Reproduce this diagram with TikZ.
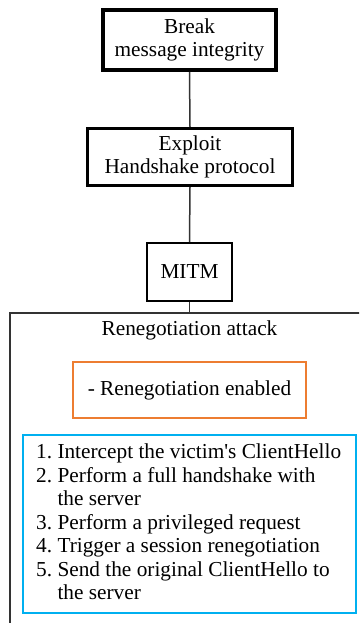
\documentclass[tikz,border=0pt]{standalone}
\usepackage{fontspec}
\setmainfont{Liberation Serif}
\definecolor{orangeline}{RGB}{237,125,49}
\definecolor{cyanline}{RGB}{0,176,240}
\begin{document}
\begin{tikzpicture}[x=1pt,y=-1pt,
  every node/.style={font=\fontsize{21.3}{23.5}\selectfont, inner sep=0pt, align=center},
  box/.style={draw=black, fill=white, rectangle},
  link/.style={draw=black!80, line width=1.5pt}]
  \useasboundingbox (0,0) rectangle (359,623);
  \begin{scope}
    \clip (0,0) rectangle (359,623);
    % outer frame of the attack, running past the page edge
    \draw[black!80, line width=2pt] (380,313) -- (10,313) -- (10,650);
    \coordinate (frametop) at (189.5,313);
  \end{scope}
  \node[anchor=north] (attack) at (189.5,321) {Renegotiation attack};
  \node[box, draw=orangeline, line width=2pt, minimum width=233pt, minimum height=56pt] (cond) at (189.5,390) {- Renegotiation enabled};
  \node[box, draw=cyanline, line width=2pt, minimum width=333pt, minimum height=178pt] (steps) at (189.5,524) {};
  \node[anchor=north west, align=left] (stepstext) at (36,444) {%
    1.\ Intercept the victim\textquotesingle s ClientHello\\
    2.\ Perform a full handshake with\\
    \hphantom{2.\ }the server\\
    3.\ Perform a privileged request\\
    4.\ Trigger a session renegotiation\\
    5.\ Send the original ClientHello to\\
    \hphantom{5.\ }the server};
  \node[box, line width=4pt, minimum width=173pt, minimum height=60pt] (goal) at (189.5,40) {Break\\message integrity};
  \node[box, line width=3pt, minimum width=205pt, minimum height=57pt] (exploit) at (190,157) {Exploit\\Handshake protocol};
  \node[box, line width=2pt, minimum width=85pt, minimum height=58pt] (mitm) at (189.5,272) {MITM};
  \draw[link] (goal.south) -- (exploit.north);
  \draw[link] (exploit.south) -- (mitm.north);
  \draw[link] (mitm.south) -- (frametop);
\end{tikzpicture}
\end{document}
